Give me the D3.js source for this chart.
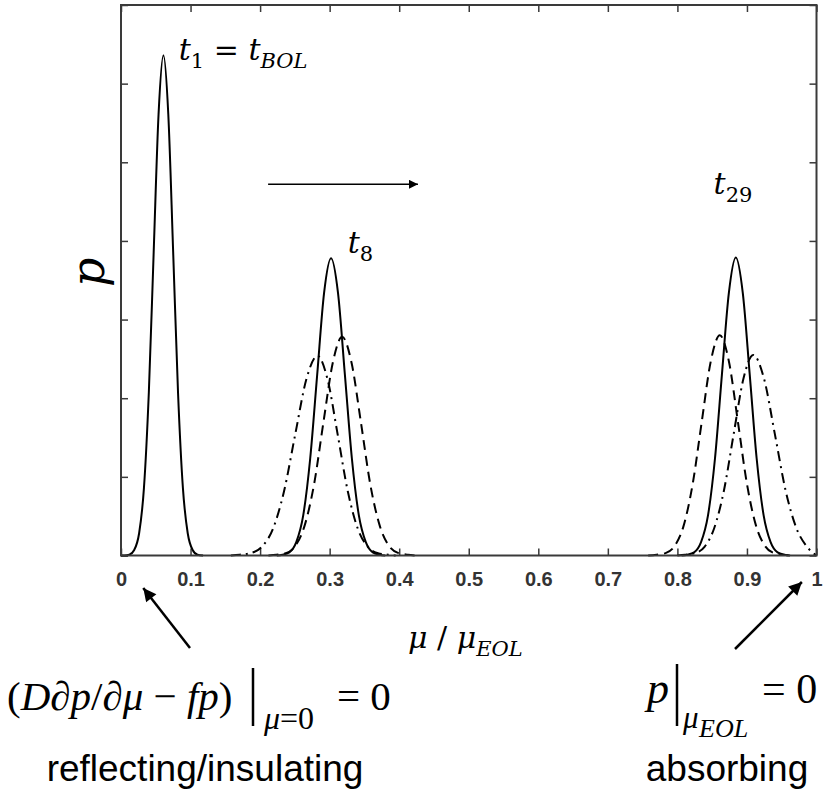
<!DOCTYPE html>
<html>
<head>
<meta charset="utf-8">
<script src="https://cdn.jsdelivr.net/npm/d3@7"></script>
<style>
  body { margin: 0; background: #fff; }
  svg { display: block; }
  .math { font-family: "DejaVu Serif", serif; fill: #000; }
  .eq { font-family: "Liberation Serif", "Times New Roman", serif; fill: #000; }
  .ticklbl text { font-family: "Liberation Sans", Arial, sans-serif; font-weight: bold; font-size: 20px; fill: #333; }
  .note { font-family: "Liberation Sans", Arial, sans-serif; font-size: 37px; fill: #000; }
</style>
</head>
<body>
<svg id="chart" width="833" height="800"></svg>
<script>
// axis ticks
const xTicks = [0, 0.1, 0.2, 0.3, 0.4, 0.5, 0.6, 0.7, 0.8, 0.9, 1];
const yTicks = [0, 1, 2, 3, 4, 5, 6, 7];

// profiles, [mu / muEOL, p]
const solidT1 = [
  [0.000, 0], [0.005, 0], [0.012, 0.01], [0.019, 0.07], [0.026, 0.28], [0.033, 0.86], [0.040, 2.07],
  [0.047, 3.86], [0.054, 5.61], [0.061, 6.36], [0.068, 5.61], [0.075, 3.86],
  [0.082, 2.07], [0.089, 0.86], [0.096, 0.28], [0.103, 0.07], [0.110, 0.01], [0.118, 0]
];
const solidT8 = [
  [0.224, 0], [0.232, 0.01], [0.242, 0.04], [0.252, 0.17], [0.262, 0.51], [0.272, 1.23], [0.282, 2.29],
  [0.292, 3.34], [0.302, 3.78], [0.312, 3.34], [0.322, 2.29], [0.332, 1.23],
  [0.342, 0.51], [0.352, 0.17], [0.362, 0.04], [0.372, 0.01], [0.380, 0]
];
const dashT8 = [
  [0.212, 0], [0.2235, 0.01], [0.237, 0.03], [0.2505, 0.12], [0.264, 0.38], [0.2775, 0.90], [0.291, 1.69],
  [0.3045, 2.45], [0.318, 2.78], [0.3315, 2.45], [0.345, 1.69], [0.3585, 0.90],
  [0.372, 0.38], [0.3855, 0.12], [0.399, 0.03], [0.4125, 0.01], [0.424, 0]
];
const dashDotT8 = [
  [0.158, 0], [0.1705, 0.01], [0.1865, 0.03], [0.2025, 0.11], [0.2185, 0.34], [0.2345, 0.82], [0.2505, 1.54],
  [0.2665, 2.24], [0.2825, 2.54], [0.297, 2.24], [0.3115, 1.54], [0.326, 0.82],
  [0.3405, 0.34], [0.355, 0.11], [0.3695, 0.03], [0.384, 0.01], [0.395, 0]
];
const solidT29 = [
  [0.806, 0], [0.814, 0.01], [0.824, 0.04], [0.834, 0.17], [0.844, 0.51], [0.854, 1.23], [0.864, 2.30],
  [0.874, 3.34], [0.884, 3.79], [0.894, 3.34], [0.904, 2.30], [0.914, 1.23],
  [0.924, 0.51], [0.934, 0.17], [0.944, 0.04], [0.954, 0.01], [0.962, 0]
];
const dashT29 = [
  [0.758, 0], [0.770, 0.01], [0.783, 0.03], [0.796, 0.12], [0.809, 0.38], [0.822, 0.91], [0.835, 1.70],
  [0.848, 2.47], [0.861, 2.80], [0.874, 2.47], [0.887, 1.70], [0.900, 0.91],
  [0.913, 0.38], [0.926, 0.12], [0.939, 0.03], [0.952, 0.01], [0.964, 0]
];
const dashDotT29 = [
  [0.800, 0], [0.811, 0.01], [0.825, 0.03], [0.839, 0.11], [0.853, 0.35], [0.867, 0.83], [0.881, 1.55],
  [0.895, 2.25], [0.909, 2.55], [0.9245, 2.25], [0.940, 1.55], [0.9555, 0.83],
  [0.971, 0.35], [0.9865, 0.11], [1.000, 0]
];

const curves = [
  { pts: solidT1, dash: null },
  { pts: solidT8, dash: null },
  { pts: dashT8, dash: '10,6' },
  { pts: dashDotT8, dash: '10,5,2,5' },
  { pts: solidT29, dash: null },
  { pts: dashT29, dash: '10,6' },
  { pts: dashDotT29, dash: '10,5,2,5' }
];

const svg = d3.select('#chart');
const plotL = 121, plotR = 816.5, plotT = 5, plotB = 555.5;

const x = d3.scaleLinear().domain([0, 1]).range([plotL, plotR]);
const y = d3.scaleLinear().domain([0, 7]).range([plotB, plotT]);

// axes, ticks pointing inward
const axisCol = '#3a3a3a';
function styleAxis(g) {
  g.select('.domain').remove();
  g.selectAll('.tick line').attr('stroke', axisCol).attr('stroke-width', 1.5);
}
svg.append('g').attr('class', 'ticklbl')
  .attr('transform', `translate(0,${plotB})`)
  .call(d3.axisBottom(x).tickValues(xTicks).tickSizeInner(-7).tickSizeOuter(0).tickPadding(16)
    .tickFormat(d => d3.format('')(d)))
  .call(styleAxis);
svg.append('g')
  .attr('transform', `translate(0,${plotT})`)
  .call(d3.axisTop(x).tickValues(xTicks).tickSizeInner(-7).tickSizeOuter(0).tickFormat(''))
  .call(styleAxis);
svg.append('g')
  .attr('transform', `translate(${plotL},0)`)
  .call(d3.axisLeft(y).tickValues(yTicks).tickSizeInner(-7).tickSizeOuter(0).tickFormat(''))
  .call(styleAxis);
svg.append('g')
  .attr('transform', `translate(${plotR},0)`)
  .call(d3.axisRight(y).tickValues(yTicks).tickSizeInner(-7).tickSizeOuter(0).tickFormat(''))
  .call(styleAxis);

// curves
const line = d3.line().x(d => x(d[0])).y(d => y(d[1])).curve(d3.curveMonotoneX);
svg.append('g').selectAll('path')
  .data(curves)
  .join('path')
  .attr('d', d => line(d.pts))
  .attr('fill', 'none')
  .attr('stroke', '#000')
  .attr('stroke-width', 2)
  .attr('stroke-dasharray', d => d.dash);

// frame
svg.append('rect')
  .attr('x', plotL).attr('y', plotT)
  .attr('width', plotR - plotL).attr('height', plotB - plotT)
  .attr('fill', 'none').attr('stroke', axisCol).attr('stroke-width', 2);

// arrow markers
const defs = svg.append('defs');
function marker(id, w, h) {
  defs.append('marker')
    .attr('id', id).attr('viewBox', '0 0 10 10')
    .attr('refX', 10).attr('refY', 5)
    .attr('markerUnits', 'userSpaceOnUse')
    .attr('markerWidth', w).attr('markerHeight', h)
    .attr('orient', 'auto')
    .append('path').attr('d', 'M0,0L10,5L0,10Z').attr('fill', '#000');
}
marker('headSmall', 12, 9);
marker('headBig', 18, 13);

// math text with subscripts
function mathText(px, py, parts, size, cls) {
  const t = svg.append('text').attr('class', cls || 'math')
    .attr('x', px).attr('y', py)
    .style('font-size', size + 'px');
  let shift = 0;
  parts.forEach(p => {
    const lvl = p.sub || 0;
    const fs = lvl === 0 ? size : size * 0.7;
    const want = lvl === 0 ? 0 : size * 0.28;
    t.append('tspan')
      .text(p.s)
      .style('font-size', fs + 'px')
      .style('font-style', p.i ? 'italic' : 'normal')
      .attr('dy', want - shift);
    shift = want;
  });
  return t;
}

// curve labels
mathText(x(0.083), y(6.3), [
  { s: 't', i: true }, { s: '1', sub: 1 }, { s: ' = ' }, { s: 't', i: true }, { s: 'BOL', i: true, sub: 1 }
], 30);
mathText(x(0.326), y(3.85), [{ s: 't', i: true }, { s: '8', sub: 1 }], 30);
mathText(x(0.852), y(4.6), [{ s: 't', i: true }, { s: '29', sub: 1 }], 30);

// drift arrow
svg.append('line')
  .attr('x1', x(0.2115)).attr('y1', y(4.72))
  .attr('x2', x(0.427)).attr('y2', y(4.72))
  .attr('stroke', '#000').attr('stroke-width', 1.5)
  .attr('marker-end', 'url(#headSmall)');

// axis titles
svg.append('text').attr('class', 'math')
  .attr('transform', `translate(104,${(plotT + plotB) / 2 - 8}) rotate(-90)`)
  .attr('text-anchor', 'middle')
  .style('font-size', '46px').style('font-style', 'italic')
  .text('p');
mathText(408, 648, [
  { s: 'μ', i: true }, { s: ' / ' }, { s: 'μ', i: true }, { s: 'EOL', i: true, sub: 1 }
], 30);

// boundary condition notes
svg.append('line')
  .attr('x1', 190).attr('y1', 648).attr('x2', x(0.032)).attr('y2', 588)
  .attr('stroke', '#000').attr('stroke-width', 2.5)
  .attr('marker-end', 'url(#headBig)');
svg.append('line')
  .attr('x1', 735).attr('y1', 649).attr('x2', x(0.979)).attr('y2', 582)
  .attr('stroke', '#000').attr('stroke-width', 2.5)
  .attr('marker-end', 'url(#headBig)');

// reflecting boundary condition
mathText(7, 710, [
  { s: '(' }, { s: 'D', i: true }, { s: '∂' }, { s: 'p', i: true }, { s: '/∂' }, { s: 'μ', i: true },
  { s: ' − ' }, { s: 'fp', i: true }, { s: ')' }
], 41, 'eq');
svg.append('line').attr('x1', 253).attr('y1', 668).attr('x2', 253).attr('y2', 726)
  .attr('stroke', '#000').attr('stroke-width', 2.5);
mathText(264, 729, [{ s: 'μ', i: true }, { s: '=0' }], 32, 'eq');
mathText(337, 710, [{ s: '= 0' }], 41, 'eq');

// absorbing boundary condition
mathText(647, 703, [{ s: 'p', i: true }], 44, 'eq');
svg.append('line').attr('x1', 677).attr('y1', 664).attr('x2', 677).attr('y2', 726)
  .attr('stroke', '#000').attr('stroke-width', 2.5);
mathText(683, 728, [{ s: 'μ', i: true }], 31, 'eq');
mathText(699, 737, [{ s: 'EOL', i: true }], 26, 'eq');
mathText(762, 703, [{ s: '= 0' }], 42, 'eq');

svg.append('text').attr('class', 'note').attr('x', 205).attr('y', 781)
  .attr('text-anchor', 'middle').text('reflecting/insulating');
svg.append('text').attr('class', 'note').attr('x', 727).attr('y', 781)
  .attr('text-anchor', 'middle').text('absorbing');
</script>
</body>
</html>
